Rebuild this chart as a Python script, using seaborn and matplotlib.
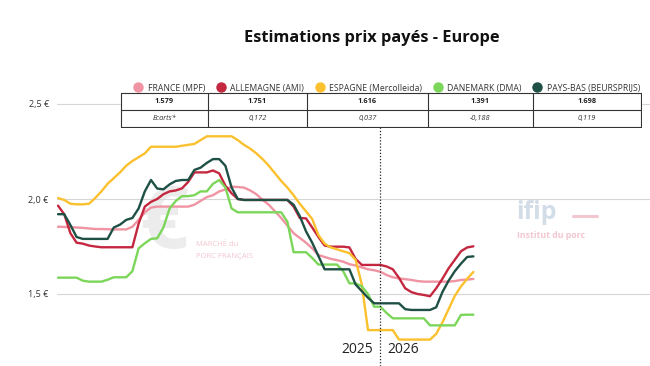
import numpy as np
import pandas as pd
import matplotlib
matplotlib.use("Agg")
import matplotlib.pyplot as plt
from matplotlib.lines import Line2D
import seaborn as sns

# Prix hebdomadaires (EUR/kg), 2025 S1 -> 2026 S16
france = [1.854, 1.853, 1.852, 1.850, 1.848, 1.845, 1.842, 1.842, 1.841, 1.840,
          1.840, 1.840, 1.854, 1.89, 1.93, 1.955, 1.96, 1.96, 1.96, 1.96,
          1.96, 1.96, 1.97, 1.99, 2.01, 2.02, 2.04, 2.05, 2.065, 2.063,
          2.06, 2.045, 2.025, 1.995, 1.97, 1.935, 1.90, 1.86, 1.82, 1.795,
          1.77, 1.74, 1.705, 1.695, 1.685, 1.678, 1.67, 1.657, 1.65, 1.64,
          1.63, 1.625, 1.617, 1.60, 1.588, 1.582, 1.578, 1.574, 1.568, 1.565,
          1.565, 1.565, 1.565, 1.565, 1.568, 1.574, 1.576, 1.579]
allemagne = [1.965, 1.92, 1.82, 1.77, 1.765, 1.755, 1.75, 1.746, 1.746, 1.746,
             1.746, 1.746, 1.746, 1.87, 1.96, 1.985, 2.00, 2.025, 2.04, 2.045,
             2.056, 2.09, 2.14, 2.14, 2.14, 2.15, 2.135, 2.07, 2.03, 2.00,
             1.995, 1.995, 1.995, 1.995, 1.995, 1.995, 1.995, 1.995, 1.96, 1.90,
             1.898, 1.85, 1.80, 1.755, 1.749, 1.749, 1.749, 1.745, 1.685, 1.653,
             1.653, 1.653, 1.653, 1.645, 1.63, 1.585, 1.53, 1.51, 1.50, 1.495,
             1.488, 1.53, 1.58, 1.635, 1.68, 1.725, 1.745, 1.751]
espagne = [2.005, 1.995, 1.975, 1.972, 1.972, 1.975, 2.005, 2.04, 2.08, 2.11,
           2.14, 2.175, 2.20, 2.22, 2.24, 2.275, 2.275, 2.275, 2.275, 2.275,
           2.28, 2.285, 2.29, 2.31, 2.33, 2.33, 2.33, 2.33, 2.33, 2.31,
           2.285, 2.265, 2.24, 2.21, 2.175, 2.135, 2.095, 2.06, 2.02, 1.975,
           1.935, 1.895, 1.81, 1.765, 1.745, 1.735, 1.725, 1.715, 1.68, 1.55,
           1.31, 1.31, 1.31, 1.31, 1.31, 1.26, 1.26, 1.26, 1.26, 1.26,
           1.26, 1.29, 1.35, 1.42, 1.49, 1.54, 1.58, 1.616]
danemark = [1.586, 1.586, 1.586, 1.586, 1.57, 1.565, 1.565, 1.565, 1.575, 1.588,
            1.588, 1.588, 1.62, 1.74, 1.767, 1.79, 1.793, 1.85, 1.95, 1.99,
            2.015, 2.015, 2.02, 2.04, 2.04, 2.08, 2.10, 2.06, 1.95, 1.93,
            1.93, 1.93, 1.93, 1.93, 1.93, 1.93, 1.93, 1.88, 1.72, 1.72,
            1.72, 1.69, 1.655, 1.655, 1.655, 1.655, 1.62, 1.556, 1.556, 1.54,
            1.50, 1.433, 1.433, 1.40, 1.372, 1.372, 1.372, 1.372, 1.372, 1.372,
            1.335, 1.335, 1.335, 1.335, 1.335, 1.39, 1.391, 1.391]
pays_bas = [1.92, 1.92, 1.863, 1.80, 1.79, 1.79, 1.79, 1.79, 1.79, 1.85,
            1.865, 1.89, 1.90, 1.95, 2.04, 2.10, 2.055, 2.051, 2.077, 2.095,
            2.10, 2.10, 2.153, 2.165, 2.19, 2.21, 2.21, 2.175, 2.06, 2.00,
            1.995, 1.995, 1.995, 1.995, 1.995, 1.995, 1.995, 1.995, 1.97, 1.91,
            1.83, 1.77, 1.70, 1.63, 1.63, 1.63, 1.63, 1.63, 1.55, 1.515,
            1.48, 1.451, 1.451, 1.451, 1.451, 1.451, 1.42, 1.416, 1.416, 1.416,
            1.416, 1.43, 1.51, 1.57, 1.62, 1.66, 1.695, 1.698]

series_names = ["FRANCE (MPF)", "ALLEMAGNE (AMI)", "ESPAGNE (Mercolleida)",
                "DANEMARK (DMA)", "PAYS-BAS (BEURSPRIJS)"]
colors = ["#F093A3", "#C4273F", "#FBC02D", "#7BD65A", "#1E5045"]
last_prices = ["1.579", "1.751", "1.616", "1.391", "1.698"]
ecarts = ["0,172", "0,037", "-0,188", "0,119"]
year_labels = ["2025", "2026"]
first_week_2026 = 52
yticks = [1.5, 2.0, 2.5]
ytick_labels = ["1,5 €", "2,0 €", "2,5 €"]

all_series = [france, allemagne, espagne, danemark, pays_bas]
rows = []
for name, vals in zip(series_names, all_series):
    for i, v in enumerate(vals):
        rows.append({"semaine": i, "prix": v, "pays": name})
df = pd.DataFrame(rows)

sns.set_theme(style="white")
plt.rcParams["font.family"] = ["Open Sans", "DejaVu Sans"]

W, H = 650, 366
fig = plt.figure(figsize=(6.5, 3.66), dpi=100)

# placement in reference pixels
def box(x0, y0, x1, y1):
    return [x0 / W, 1 - y1 / H, (x1 - x0) / W, (y1 - y0) / H]

ax = fig.add_axes(box(57, 95, 650, 366))
px_per_wk = 6.2
ax.set_xlim((57 - 58) / px_per_wk, (650 - 58) / px_per_wk)
ax.set_ylim(1.5 - (366 - 294) / 190, 2.5 + (104 - 95) / 190)

# watermarks
ax.text(0.18, 0.52, "€", transform=ax.transAxes, fontsize=62, color="#ececec",
        ha="center", va="center", fontweight="bold", zorder=0)
ax.text(0.235, 0.45, "MARCHÉ du", transform=ax.transAxes, fontsize=5.5,
        color="#f2c6ce", ha="left", va="center", zorder=0)
ax.text(0.235, 0.405, "PORC FRANÇAIS", transform=ax.transAxes, fontsize=5.5,
        color="#f2c6ce", ha="left", va="center", zorder=0)
ax.text(0.775, 0.565, "ifip", transform=ax.transAxes, fontsize=18,
        color="#d3dde7", ha="left", va="center", fontweight="bold", zorder=0)
ax.plot([0.87, 0.91], [0.555, 0.555], transform=ax.transAxes, color="#f2c6ce",
        lw=2.2, zorder=0)
ax.text(0.775, 0.48, "Institut du porc", transform=ax.transAxes, fontsize=6.3,
        color="#f2c6ce", ha="left", va="center", fontweight="bold", zorder=0)

sns.lineplot(data=df, x="semaine", y="prix", hue="pays", hue_order=series_names,
             palette=colors, linewidth=1.7, legend=False, ax=ax, zorder=3)

ax.set_yticks(yticks)
ax.set_yticklabels(ytick_labels, fontsize=6.5, color="#333333")
ax.set_xticks([])
ax.set_xlabel("")
ax.set_ylabel("")
ax.tick_params(axis="y", length=0, pad=6)
ax.grid(axis="y", color="#d6d6d6", linewidth=0.8)
ax.set_axisbelow(True)
for s in ax.spines.values():
    s.set_visible(False)

# separation 2025 / 2026
ax.axvline(first_week_2026, color="#222222", linestyle=(0, (1, 1.5)),
           linewidth=0.9, zorder=4)
ax.annotate(year_labels[0], (first_week_2026, 0.06), xycoords=("data", "axes fraction"),
            xytext=(-5, 0), textcoords="offset points", ha="right", va="center",
            fontsize=10, color="#222222")
ax.annotate(year_labels[1], (first_week_2026, 0.06), xycoords=("data", "axes fraction"),
            xytext=(5, 0), textcoords="offset points", ha="left", va="center",
            fontsize=10, color="#222222")

fig.text(372 / W, 1 - 38 / H, "Estimations prix payés - Europe", ha="center",
         va="center", fontsize=11.8, fontweight="bold", color="#111111")

# legend
handles = [Line2D([], [], marker="o", linestyle="", markersize=6.5,
                  markerfacecolor=c, markeredgecolor=c) for c in colors]
fig.legend(handles, series_names, loc="center", bbox_to_anchor=(387 / W, 1 - 88 / H),
           ncol=5, frameon=False, fontsize=6.2, handlelength=1.0, handletextpad=0.6,
           columnspacing=1.3, labelcolor="#333333", borderaxespad=0, borderpad=0)

# table of last values
tax = fig.add_axes(box(120, 92, 642, 128))
tax.set_xlim(120, 642)
tax.set_ylim(128, 92)
tax.axis("off")
cols = [121, 208, 307, 428, 533, 641]
tax.fill_between([121, 641], 93, 127, color="white", zorder=1)
for x in cols:
    tax.plot([x, x], [93, 127], color="#333333", lw=0.8, zorder=2)
for y in [93, 110, 127]:
    tax.plot([121, 641], [y, y], color="#333333", lw=0.8, zorder=2)
for j, val in enumerate(last_prices):
    xc = (cols[j] + cols[j + 1]) / 2
    tax.text(xc, 101.5, val, ha="center", va="center", fontsize=5.3,
             fontweight="bold", color="#222222", zorder=3)
    label = "Ecarts*" if j == 0 else ecarts[j - 1]
    tax.text(xc, 118.5, label, ha="center", va="center", fontsize=5.3,
             style="italic", color="#333333", zorder=3)

fig.savefig("out.png", dpi=100)
